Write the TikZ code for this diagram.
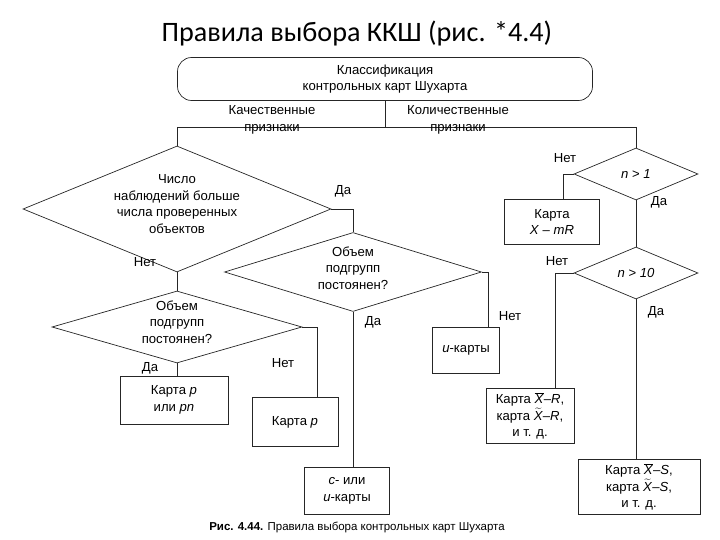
\documentclass[tikz,border=0pt]{standalone}
\usepackage{fontspec}
\setmainfont{Liberation Sans}
\newfontfamily\titlefont{Carlito}
\usetikzlibrary{shapes.geometric}
\newcommand{\xbar}{$\overline{\mbox{\textit{X}}}$}
\newcommand{\xtil}{$\widetilde{\mbox{\textit{X}}}$}
\begin{document}
\begin{tikzpicture}[x=0.03cm,y=-0.03cm,
  every node/.style={font=\fontsize{11.2}{14}\selectfont, align=center},
  ln/.style={draw=black!85, line width=0.6pt},
  box/.style={ln, rectangle, inner sep=0pt},
  dia/.style={ln, diamond, inner sep=0pt, aspect=3},
  lab/.style={inner sep=1pt}]
\useasboundingbox (0,0) rectangle (720,540);
\node[font=\titlefont\fontsize{24}{27}\selectfont] (title) at (357,33) {Правила выбора ККШ (рис. *4.4)};
\node[box, rounded corners=12pt, minimum width=415*0.03cm, minimum height=43*0.03cm] (top) at (385,79) {};
\node[box, draw=none] (toptxt) at (385,79) {Классификация\\контрольных карт Шухарта};
\path (top.south) -- ++(0,27) coordinate (j);
\coordinate (jl) at (177,127); \coordinate (jr) at (636,127);
\draw[ln] (top.south) -- (j) (jl) -- (jr);
\node (q1) at (272,120) {Качественные\\признаки};
\node (q2) at (458,120) {Количественные\\признаки};
% diamonds
\node[dia, minimum width=308*0.03cm, minimum height=126*0.03cm] (d1) at (177,209) {};
\node (d1t) at (177,204) {Число\\наблюдений больше\\числа проверенных\\объектов};
\node[dia, minimum width=257*0.03cm, minimum height=79*0.03cm] (d2) at (353,272) {};
\node (d2t) at (353,268) {Объем\\подгрупп\\постоянен?};
\node[dia, minimum width=250*0.03cm, minimum height=72*0.03cm] (d3) at (177,327) {};
\node (d3t) at (177,322) {Объем\\подгрупп\\постоянен?};
\node[dia, minimum width=124*0.03cm, minimum height=52*0.03cm] (d4) at (636,174) {\textit{n} > \textit{1}};
\node[dia, minimum width=124*0.03cm, minimum height=52*0.03cm] (d5) at (636,273) {\textit{n} > \textit{10}};
% boxes
\node[box, minimum width=108*0.03cm, minimum height=48*0.03cm] (b1) at (174,400) {Карта \textit{p}\\или \textit{pn}};
\node[box, minimum width=86*0.03cm, minimum height=49*0.03cm] (b2) at (295,422) {Карта \textit{p}};
\node[box, minimum width=85*0.03cm, minimum height=47*0.03cm] (b3) at (347,491) {\textit{c}- или\\\textit{u}-карты};
\node[box, minimum width=67*0.03cm, minimum height=46*0.03cm] (b4) at (466,350) {\textit{u}-карты};
\node[box, minimum width=95*0.03cm, minimum height=45*0.03cm] (b5) at (552,222) {Карта\\\textit{X} – \textit{mR}};
\node[box, minimum width=88*0.03cm, minimum height=55*0.03cm] (b6) at (530,416) {Карта \xbar–\textit{R},\\карта \xtil–\textit{R},\\и т. д.};
\node[box, minimum width=122*0.03cm, minimum height=55*0.03cm] (b7) at (639,487) {Карта \xbar–\textit{S},\\карта \xtil–\textit{S},\\и т. д.};
% connectors
\draw[ln] (jl) -- (d1.north);
\draw[ln] (jr) -- (d4.north);
\draw[ln] (d1.east) -- ++(22,0) coordinate (c1) -- (d2.north -| c1);
\draw[ln] (d1.south) -- (d3.north);
\draw[ln] (d2.east) -- ++(6,0) coordinate (c2) -- (b4.north -| c2);
\draw[ln] (d2.south) -- (b3.north -| d2.south);
\draw[ln] (d3.east) -- ++(15,0) coordinate (c3) -- (b2.north -| c3);
\draw[ln] (d3.south) -- (b1.north -| d3.south);
\draw[ln] (d4.west) -- ++(-10,0) coordinate (c4) -- (b5.north -| c4);
\draw[ln] (d4.south) -- (d5.north);
\draw[ln] (d5.west) -- ++(-18,0) coordinate (c5) -- (b6.north -| c5);
\draw[ln] (d5.south) -- (b7.north -| d5.south);
% labels
\node[lab] (l1) at (343,191) {Да};
\node[lab] (l2) at (145,262) {Нет};
\node[lab] (l3) at (373,322) {Да};
\node[lab] (l4) at (510,316) {Нет};
\node[lab] (l5) at (150,368) {Да};
\node[lab] (l6) at (283,363) {Нет};
\node[lab] (l7) at (565,158) {Нет};
\node[lab] (l8) at (659,202) {Да};
\node[lab] (l9) at (557,261) {Нет};
\node[lab] (l10) at (656,312) {Да};
\node[font=\fontsize{9.8}{12}\selectfont] (cap) at (357,527) {\textbf{Рис. 4.44.} Правила выбора контрольных карт Шухарта};
\end{tikzpicture}
\end{document}
